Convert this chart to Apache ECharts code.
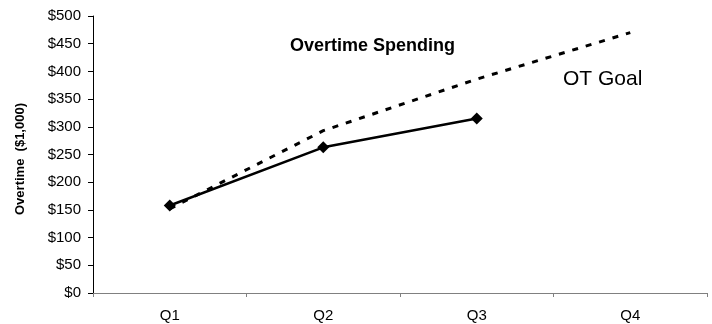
<!DOCTYPE html>
<html>
<head>
<meta charset="utf-8">
<script src="https://cdn.jsdelivr.net/npm/echarts@6/dist/echarts.min.js"></script>
<style>
  html, body { margin: 0; padding: 0; background: #fff; }
  #chart { width: 712px; height: 324px; }
</style>
</head>
<body>
<div id="chart"></div>
<script>
// Quarterly overtime spending versus target, in thousands of dollars
const quarters = ['Q1', 'Q2', 'Q3', 'Q4'];
const actualSpend = [158, 263, 315, null];
const goalSpend = [152, 293, 386, 470];
const yTicks = { min: 0, max: 500, step: 50 };

const FONT = 'Arial, "Liberation Sans", sans-serif';

const chart = echarts.init(document.getElementById('chart'), null, { renderer: 'canvas' });

chart.setOption({
  animation: false,
  backgroundColor: '#ffffff',
  title: {
    text: 'Overtime Spending',
    left: 290,
    top: 37,
    padding: 0,
    textStyle: { fontFamily: FONT, fontSize: 18, fontWeight: 'bold', color: '#000' }
  },
  grid: { left: 93, right: 5, top: 16, bottom: 31, containLabel: false },
  xAxis: {
    type: 'category',
    data: quarters,
    boundaryGap: true,
    axisLine: { lineStyle: { color: '#808080', width: 1 } },
    axisTick: { show: true, length: 4, lineStyle: { color: '#808080' } },
    axisLabel: { fontFamily: FONT, fontSize: 15, color: '#000', margin: 15 },
    splitLine: { show: false }
  },
  yAxis: {
    type: 'value',
    min: yTicks.min,
    max: yTicks.max,
    interval: yTicks.step,
    axisLine: { show: true, lineStyle: { color: '#000', width: 1 } },
    axisTick: { show: true, length: 5, lineStyle: { color: '#000' } },
    axisLabel: {
      fontFamily: FONT, fontSize: 15, color: '#000', margin: 12,
      formatter: v => '$' + v
    },
    splitLine: { show: false }
  },
  series: [
    {
      name: 'OT Goal',
      type: 'line',
      data: goalSpend,
      symbol: 'none',
      lineStyle: { color: '#000', width: 3, type: [6, 8] },
      z: 2
    },
    {
      name: 'Overtime',
      type: 'line',
      data: actualSpend,
      symbol: 'diamond',
      symbolSize: 12,
      itemStyle: { color: '#000' },
      lineStyle: { color: '#000', width: 2.5 },
      z: 3
    }
  ],
  graphic: [
    {
      // vertical axis title
      type: 'text',
      x: 20,
      y: 159,
      rotation: Math.PI / 2,
      style: {
        text: 'Overtime  ($1,000)', fontFamily: FONT, fontSize: 13, fontWeight: 'bold',
        fill: '#000', align: 'center', verticalAlign: 'middle'
      }
    },
    {
      type: 'text',
      left: 563,
      top: 69,
      style: { text: 'OT Goal', fontFamily: FONT, fontSize: 21, fill: '#000' }
    }
  ]
});
</script>
</body>
</html>
